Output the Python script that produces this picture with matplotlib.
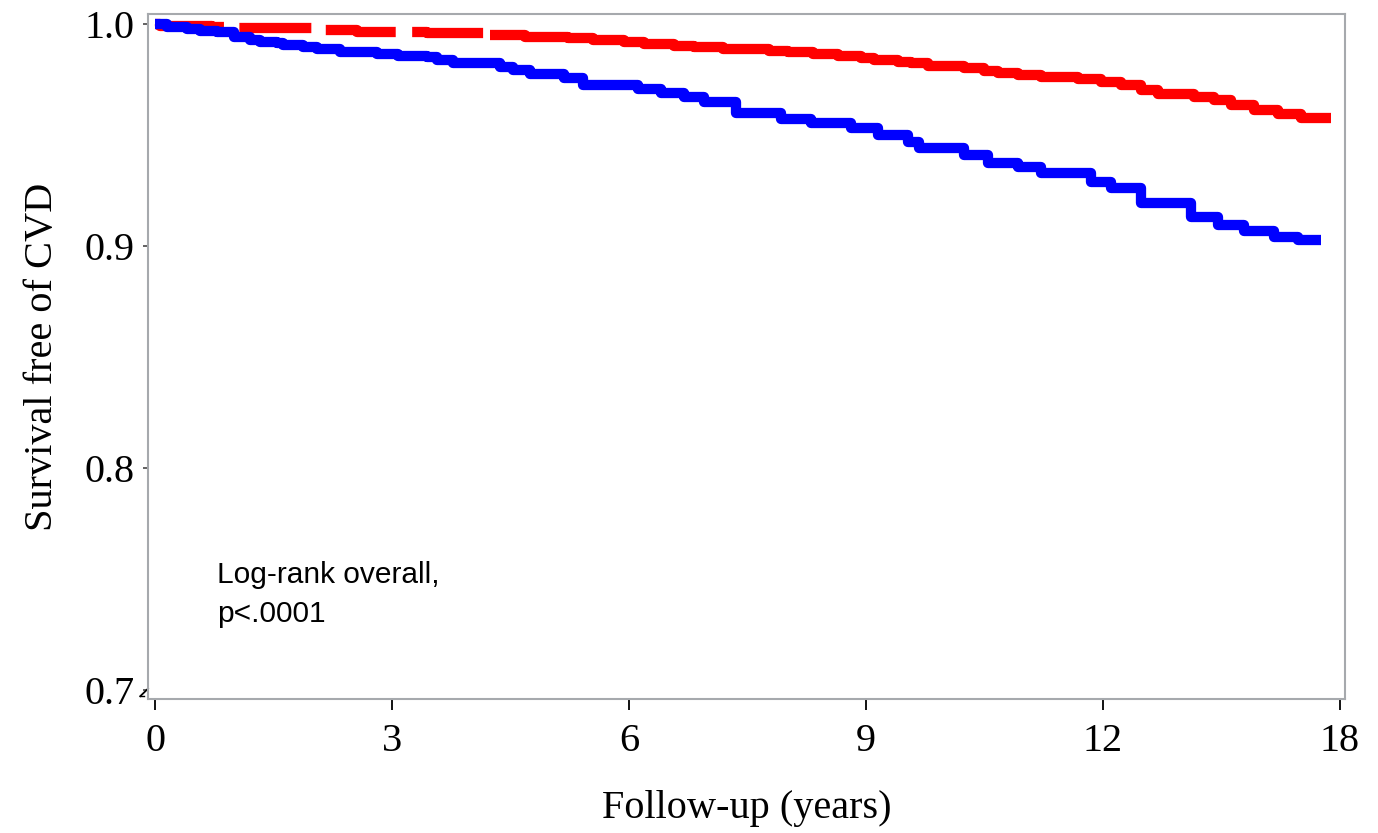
import matplotlib
matplotlib.use("Agg")
import matplotlib.pyplot as plt

# x values are axis positions: ticks sit evenly at 0,3,...,15 but are labelled 0,3,6,9,12,18
tick_pos = [0, 3, 6, 9, 12, 15]
tick_labels = ["0", "3", "6", "9", "12", "18"]
y_ticks = [0.7, 0.8, 0.9, 1.0]

# blue group (step curve: time where each level starts, survival level)
blue_t = [0, 0.152, 0.406, 0.570, 0.786, 1.00, 1.204, 1.331, 1.546, 1.622, 1.876,
          2.053, 2.345, 2.814, 3.080, 3.447, 3.574, 3.777, 4.373, 4.537, 4.753,
          5.171, 5.412, 6.109, 6.40, 6.692, 6.945, 7.351, 7.921, 8.302, 8.809,
          9.151, 9.531, 9.671, 10.241, 10.545, 10.925, 11.217, 11.850, 12.104,
          12.484, 13.118, 13.460, 13.790, 14.170, 14.474, 14.765]
blue_s = [1.0, 0.9988, 0.9977, 0.997, 0.9965, 0.9943, 0.9928, 0.992, 0.9913, 0.9905,
          0.9898, 0.9887, 0.9872, 0.9863, 0.9857, 0.985, 0.9838, 0.9826, 0.9808,
          0.9793, 0.9775, 0.9755, 0.9725, 0.9707, 0.9688, 0.9673, 0.965, 0.9598,
          0.9572, 0.9553, 0.953, 0.95, 0.947, 0.944, 0.941, 0.9372, 0.9357, 0.9327,
          0.929, 0.926, 0.9192, 0.9132, 0.9095, 0.9069, 0.9042, 0.9027, 0.9027]

# red group
red_t = [0, 0.063, 0.722, 1.039, 2.066, 2.560, 3.447, 4.246, 4.689, 5.234, 5.539,
         5.932, 6.185, 6.565, 6.819, 7.186, 7.769, 8.010, 8.327, 8.644, 8.935,
         9.100, 9.404, 9.569, 9.785, 10.241, 10.494, 10.672, 10.925, 11.217,
         11.686, 11.977, 12.231, 12.484, 12.700, 13.156, 13.409, 13.625, 13.916,
         14.221, 14.512, 14.892]
red_s = [1.0, 0.9992, 0.9985, 0.998, 0.9973, 0.9965, 0.9958, 0.995, 0.9943, 0.9935,
         0.9928, 0.9917, 0.991, 0.9902, 0.9895, 0.9887, 0.988, 0.9872, 0.9865,
         0.9857, 0.9848, 0.984, 0.983, 0.9826, 0.981, 0.98, 0.979, 0.978, 0.977,
         0.976, 0.975, 0.974, 0.9725, 0.9703, 0.9685, 0.967, 0.9658, 0.9635,
         0.9613, 0.9595, 0.9575, 0.9575]

serif = "Liberation Serif"

fig = plt.figure(figsize=(13.78, 8.33), dpi=100)
ax = fig.add_axes([0.1074, 0.1609, 0.8686, 0.8223])

# red: dashed at the start, solid afterwards
k = 8
ax.plot(red_t[:k], red_s[:k], drawstyle="steps-post", color="#ff0000", lw=7.4,
        linestyle=(0, (7, 1.6)), dash_capstyle="butt")
ax.plot(red_t[k - 1:], red_s[k - 1:], drawstyle="steps-post", color="#ff0000",
        lw=7.4, solid_capstyle="butt")
ax.plot(blue_t, blue_s, drawstyle="steps-post", color="#0000ff", lw=7.4,
        solid_capstyle="butt")

ax.set_xlim(-0.089, 15.063)
ax.set_ylim(0.696, 1.0045)
ax.set_xticks(tick_pos)
ax.set_xticklabels(tick_labels)
ax.set_yticks(y_ticks)
ax.set_yticklabels(["0.7", "0.8", "0.9", "1.0"])

for sp in ax.spines.values():
    sp.set_color("#a6a9ad")
    sp.set_linewidth(1.5)

ax.tick_params(axis="x", length=8, width=1.3, color="black", pad=9,
               labelsize=29)
ax.tick_params(axis="y", length=3.5, width=1.3, color="#555555", pad=6,
               labelsize=29)
for lab in ax.get_xticklabels() + ax.get_yticklabels():
    lab.set_family(serif)

ax.set_xlabel("Follow-up (years)", family=serif, fontsize=29, labelpad=22)
ax.set_ylabel("Survival free of CVD", family=serif, fontsize=29, labelpad=17)

ax.text(0.0576, 0.202, "Log-rank overall,\np<.0001", transform=ax.transAxes,
        family="Liberation Sans", fontsize=21.5, va="top", ha="left",
        linespacing=1.5)

# axis break mark at the bottom of the y axis
ax.plot([-0.0065, 0.0], [0.004, 0.015], transform=ax.transAxes, color="black",
        lw=1.3, clip_on=False)
ax.plot([-0.0065, -0.003], [0.004, 0.004], transform=ax.transAxes, color="black",
        lw=1.0, clip_on=False)

fig.savefig("out.png", dpi=100)
